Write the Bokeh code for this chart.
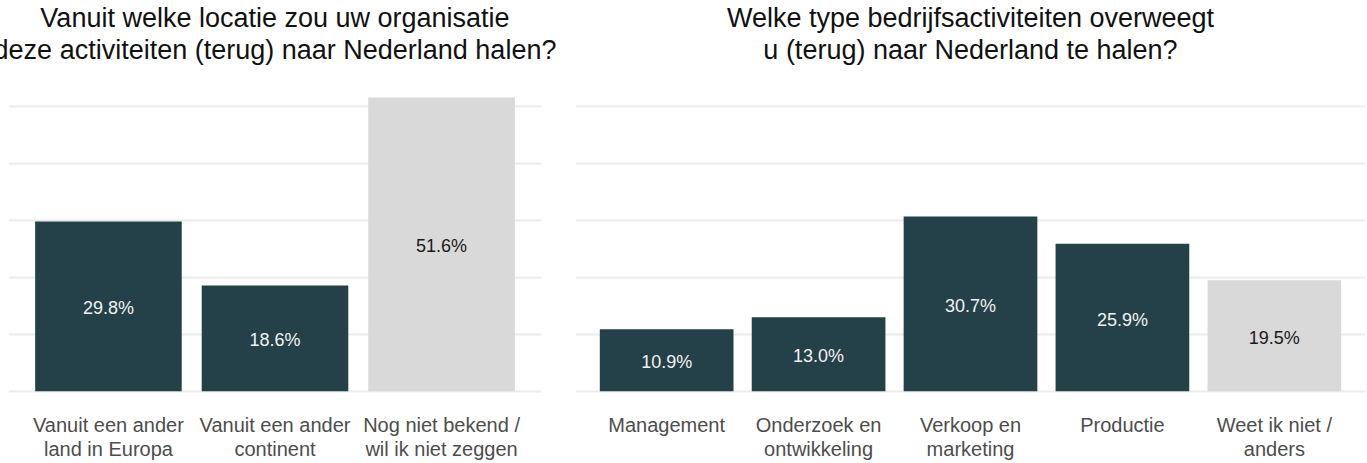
from bokeh.plotting import figure
from bokeh.layouts import row
from bokeh.models import FactorRange, Range1d, FixedTicker, ColumnDataSource, Title
from bokeh.core.properties import value
from bokeh.embed import file_html
from bokeh.resources import INLINE

# ---- data ----
left_title = ["Vanuit welke locatie zou uw organisatie", "deze activiteiten (terug) naar Nederland halen?"]
left_cats = ["Vanuit een ander\nland in Europa", "Vanuit een ander\ncontinent", "Nog niet bekend /\nwil ik niet zeggen"]
left_vals = [29.8, 18.6, 51.6]

right_title = ["Welke type bedrijfsactiviteiten overweegt", "u (terug) naar Nederland te halen?"]
right_cats = ["Management", "Onderzoek en\nontwikkeling", "Verkoop en\nmarketing", "Productie", "Weet ik niet /\nanders"]
right_vals = [10.9, 13.0, 30.7, 25.9, 19.5]

grid_ticks = [0, 10, 20, 30, 40, 50]

# ---- style ----
DARK = "#244048"
GREY = "#D9D9D9"
FONT = "Liberation Sans"
HEIGHT = 463
Y_START, Y_END = -12.68, 57.39


def make(title, cats, vals, width, bl, br):
    n = len(cats)
    fill = [DARK] * (n - 1) + [GREY]
    tcol = ["#F2F2F2"] * (n - 1) + ["#1A1A1A"]
    src = ColumnDataSource(dict(
        cat=cats, val=vals, half=[v / 2 for v in vals],
        lab=["%.1f%%" % v for v in vals], fill=fill, tcol=tcol))
    p = figure(x_range=FactorRange(factors=cats, range_padding=0.1, range_padding_units="absolute"),
               y_range=Range1d(Y_START, Y_END),
               width=width, height=HEIGHT, output_backend="svg", toolbar_location=None,
               min_border_left=bl, min_border_right=br, min_border_top=0, min_border_bottom=0,
               outline_line_color=None, background_fill_color="white", border_fill_color="white")
    p.vbar(x="cat", top="val", bottom=0, width=0.88, source=src,
           fill_color="fill", line_color=None)
    p.text(x="cat", y="half", text="lab", source=src, text_color="tcol",
           text_align="center", text_baseline="middle", text_font_size="18px",
           y_offset=2, text_font=value(FONT))
    for line in reversed(title):
        p.add_layout(Title(text=line, align="center", text_font=FONT, text_font_size="27px",
                           text_font_style="normal", text_color="#111111", standoff=0), "above")
    p.yaxis.visible = False
    p.xgrid.visible = False
    p.ygrid.ticker = FixedTicker(ticks=grid_ticks)
    p.ygrid.grid_line_color = "#EBEBEB"
    p.ygrid.grid_line_width = 2
    ax = p.xaxis[0]
    ax.fixed_location = 0
    ax.axis_line_color = None
    ax.major_tick_line_color = None
    ax.minor_tick_line_color = None
    ax.major_tick_out = 0
    ax.major_tick_in = 0
    ax.axis_label_standoff = 0
    ax.major_label_text_font = FONT
    ax.major_label_text_font_size = "20px"
    ax.major_label_text_line_height = 1.08
    ax.major_label_text_color = "#4D4D4D"
    ax.major_label_standoff = 23
    return p


left = make(left_title, left_cats, left_vals, 558, 8, 17)
right = make(right_title, right_cats, right_vals, 807, 17, 0)

layout = row(left, right, spacing=0)
open("out.html", "w").write(file_html(layout, INLINE))
